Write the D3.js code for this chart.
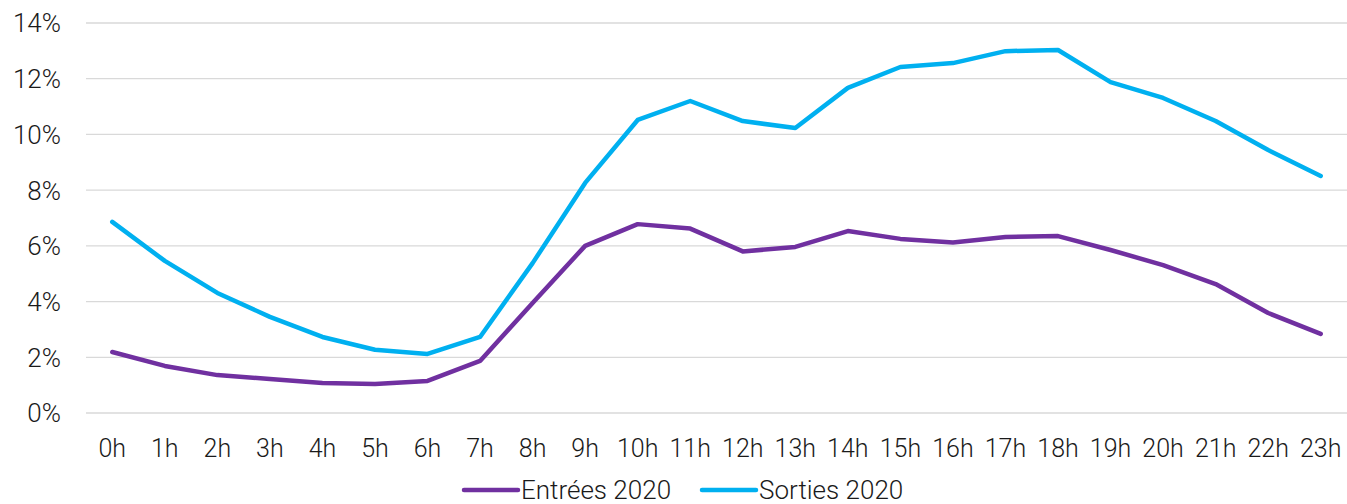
<!DOCTYPE html>
<html>
<head>
<meta charset="utf-8">
<script src="https://cdn.jsdelivr.net/npm/d3@7"></script>
<style>
  body { margin: 0; background: #fff; overflow: hidden; }
  text { font-family: Roboto, "Liberation Sans", Arial, sans-serif; font-weight: 300; fill: #1a1a1a; }
</style>
</head>
<body>
<div id="chart"></div>
<script>
const hours = ['0h','1h','2h','3h','4h','5h','6h','7h','8h','9h','10h','11h','12h','13h','14h','15h','16h','17h','18h','19h','20h','21h','22h','23h'];
const entrees = [2.19,1.69,1.36,1.22,1.08,1.04,1.15,1.87,3.95,6.0,6.78,6.62,5.8,5.96,6.53,6.25,6.12,6.32,6.35,5.85,5.31,4.63,3.59,2.84];
const sorties = [6.86,5.46,4.31,3.45,2.73,2.27,2.12,2.73,5.38,8.26,10.52,11.2,10.48,10.23,11.67,12.42,12.56,12.99,13.03,11.88,11.31,10.48,9.44,8.51];
const yTicks = [0,2,4,6,8,10,12,14];
const series = [
  {name: 'Entrées 2020', values: entrees, color: '#7030A0'},
  {name: 'Sorties 2020', values: sorties, color: '#00B0F0'}
];

const width = 1347, height = 504;
const margin = {top: 23, right: 0, bottom: 91, left: 86};

const svg = d3.select('#chart').append('svg')
  .attr('width', width)
  .attr('height', height)
  .style('display', 'block');

const x = d3.scaleBand()
  .domain(hours)
  .range([margin.left, width - margin.right]);

const y = d3.scaleLinear()
  .domain([0, 14])
  .range([height - margin.bottom, margin.top]);

// grid
svg.append('g')
  .selectAll('line').data(yTicks).enter()
  .append('line')
  .attr('x1', margin.left)
  .attr('x2', width - margin.right)
  .attr('y1', d => y(d))
  .attr('y2', d => y(d))
  .attr('stroke', '#d9d9d9')
  .attr('stroke-width', 1.3);

// y labels
svg.append('g')
  .selectAll('text').data(yTicks).enter()
  .append('text')
  .attr('x', 61)
  .attr('y', d => y(d))
  .attr('dy', '0.36em')
  .attr('text-anchor', 'end')
  .style('font-size', '26px')
  .text(d => d + '%');

// x labels
svg.append('g')
  .selectAll('text').data(hours).enter()
  .append('text')
  .attr('x', d => x(d) + x.bandwidth() / 2)
  .attr('y', 457)
  .attr('text-anchor', 'middle')
  .style('font-size', '25px')
  .text(d => d);

const line = d3.line()
  .x((d, i) => x(hours[i]) + x.bandwidth() / 2)
  .y(d => y(d));

svg.append('g')
  .selectAll('path').data(series).enter()
  .append('path')
  .attr('d', d => line(d.values))
  .attr('fill', 'none')
  .attr('stroke', d => d.color)
  .attr('stroke-width', 4.5)
  .attr('stroke-linejoin', 'round')
  .attr('stroke-linecap', 'round');

// legend
const legendPos = [462, 700];
const lg = svg.append('g')
  .selectAll('g').data(series).enter()
  .append('g')
  .attr('transform', (d, i) => 'translate(' + legendPos[i] + ',' + 490 + ')');

lg.append('line')
  .attr('x1', 2).attr('x2', 56)
  .attr('y1', 0).attr('y2', 0)
  .attr('stroke', d => d.color)
  .attr('stroke-width', 4.5)
  .attr('stroke-linecap', 'round');

lg.append('text')
  .attr('x', 59)
  .attr('y', 0)
  .attr('dy', '0.35em')
  .style('font-size', '26px')
  .text(d => d.name);
</script>
</body>
</html>
